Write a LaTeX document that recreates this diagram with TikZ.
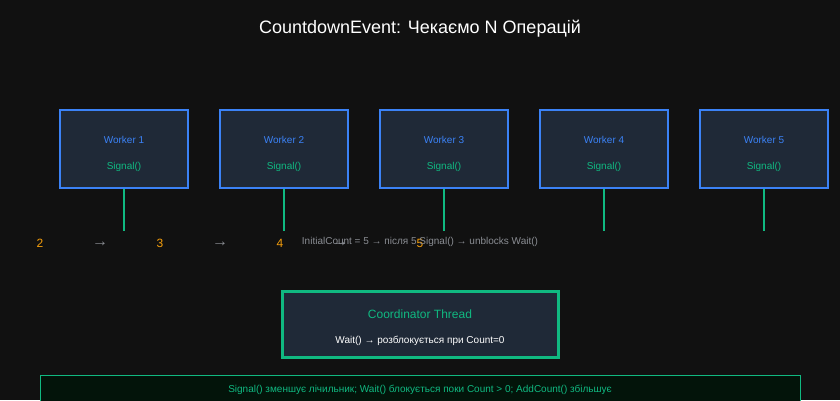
\documentclass[tikz,border=0pt]{standalone}
\usepackage{fontspec}
\setmainfont{Liberation Sans}
\usetikzlibrary{positioning}
\definecolor{bgdark}{HTML}{111111}
\definecolor{panel}{HTML}{1F2937}
\definecolor{workblue}{HTML}{3B82F6}
\definecolor{siggreen}{HTML}{10B981}
\definecolor{cntorange}{HTML}{F59E0B}
\definecolor{mutedgray}{HTML}{8A8D93}
\definecolor{notefill}{HTML}{03140A}

\begin{document}
\begin{tikzpicture}[
          x=1pt, y=-1pt,
          node distance=30pt,
          worker/.style={rectangle, draw=workblue, line width=2pt, fill=panel, minimum width=128pt, minimum height=78pt},
          wname/.style={text=workblue, font=\fontsize{10}{12}\selectfont},
          wsig/.style={text=siggreen, font=\fontsize{10}{12}\selectfont},
          coord/.style={rectangle, draw=siggreen, line width=3pt, fill=panel, minimum width=276pt, minimum height=66pt},
          note/.style={rectangle, draw=siggreen, line width=0.6pt, fill=notefill, minimum width=760pt, minimum height=40pt, anchor=north west},
          tick/.style={siggreen, line width=2pt},
          count/.style={text=cntorange, font=\fontsize{12}{14}\selectfont},
          step arrow/.style={text=mutedgray, font=\fontsize{16}{18}\selectfont}
        ]
          \fill[bgdark] (0,0) rectangle (840,400);
          \useasboundingbox (0,0) rectangle (840,400);

          \node[text=white, font=\fontsize{18}{22}\selectfont] (title) at (420,29) {CountdownEvent: Чекаємо N Операцій};

          % workers
          \node[worker] (w1) at (124,149) {};
          \foreach \i [remember=\i as \prev (initially 1)] in {2,...,5}
            \node[worker, right=of w\prev] (w\i) {};
          \foreach \i in {1,...,5} {
            \node[wname] (wn\i) at ([yshift=9pt]w\i.center) {Worker \i};
            \node[wsig] (ws\i) at ([yshift=-18pt]w\i.center) {Signal()};
            \coordinate[below=42pt of w\i.south] (t\i);
            \draw[tick] (w\i.south) -- (t\i);
          }

          % counter
          \node[count] (c2) at (40,243) {2};
          \node[step arrow] (a1) at (100,244) {→};
          \node[count] (c3) at (160,243) {3};
          \node[step arrow] (a2) at (220,244) {→};
          \node[count] (c4) at (280,243) {4};
          \node[step arrow] (a3) at (340,244) {→};
          \node[count] (c5) at (420,243) {5};
          \node[text=mutedgray, font=\fontsize{10}{12}\selectfont] (rule) at (420,242) {InitialCount = 5 → після 5 Signal() → unblocks Wait()};

          % coordinator
          \node[coord] (main) at (420,324.5) {};
          \node[text=siggreen, font=\fontsize{12}{15}\selectfont] (mainname) at (420,314) {Coordinator Thread};
          \node[text=white, font=\fontsize{10}{12}\selectfont] (mainwait) at (420,341) {Wait() → розблокується при Count=0};

          \node[note] (legend) at (40,375) {};
          \node[text=siggreen, font=\fontsize{10}{12}\selectfont] (legendtext) at (420,390) {Signal() зменшує лічильник; Wait() блокується поки Count > 0; AddCount() збільшує};
        \end{tikzpicture}
\end{document}
